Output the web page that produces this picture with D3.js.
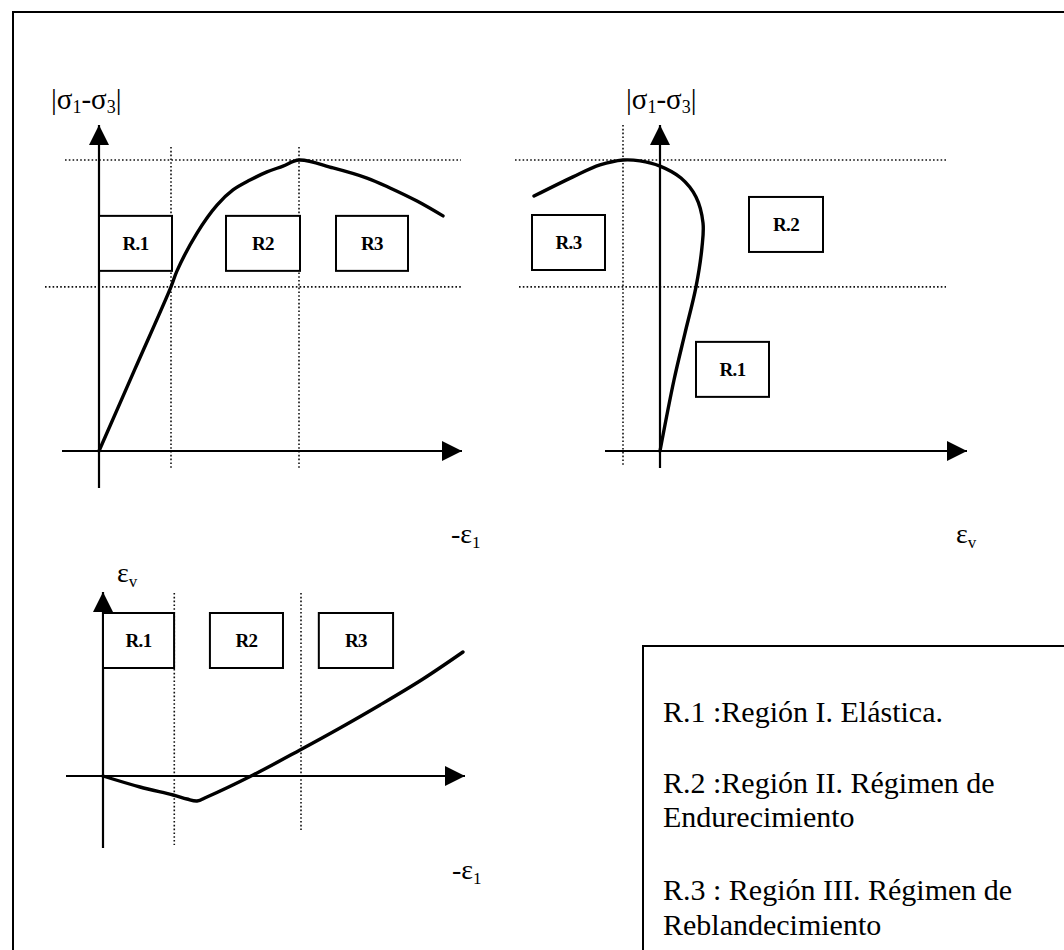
<!DOCTYPE html>
<html>
<head>
<meta charset="utf-8">
<script src="https://cdn.jsdelivr.net/npm/d3@7"></script>
<style>
  html, body { margin: 0; padding: 0; background: #fff; }
  svg { display: block; }
  text { font-family: "Liberation Serif", "Times New Roman", serif; fill: #000; }
</style>
</head>
<body>
<script>
// Deviatoric stress vs. axial strain (-ε1): elastic rise, hardening to peak, softening
const curveStressAxial = [
  [0, 0], [1.8, 28.2], [3.6, 56.4], [3.9, 61.9], [4.9, 74.9], [5.9, 84.5],
  [6.7, 89.7], [7.55, 93.1], [8.4, 95.9], [9.2, 97.9], [10, 100],
  [11.7, 97.3], [13.4, 93.8], [14.55, 90.4], [15.9, 85.9], [17.2, 80.8]
];
// Deviatoric stress vs. volumetric strain εv (ordered along the loading path)
const curveStressVolumetric = [
  [0, 0], [0.7, 24.4], [1.25, 40.5], [1.8, 56.4], [2.1, 70.1], [2.15, 78.4],
  [1.8, 87.3], [1.05, 93.8], [0, 97.9], [-1.0, 99.7], [-1.85, 100],
  [-3.0, 98.3], [-4.35, 94.2], [-6.3, 87.6]
];
// Volumetric strain εv vs. axial strain (-ε1): compaction then dilatancy
const curveVolumetricAxial = [
  [0, 0], [1.87, -1.1], [3.54, -1.9], [4.24, -2.3], [4.75, -2.5], [5.25, -2.1],
  [7.58, 0.1], [9.95, 2.6], [11.97, 4.8], [13.99, 7.1], [16.16, 9.7], [18.18, 12.4]
];

// Region limits
const axialLimits = [3.6, 10];       // -ε1 at end of elastic range and at peak
const stressLevels = [56.4, 100];    // yield and peak stress
const volumetricPeak = [-1.85];      // εv at peak stress

// Region tag labels
const tagsA = ["R.1", "R2", "R3"];
const tagsB = ["R.3", "R.2", "R.1"];
const tagsC = ["R.1", "R2", "R3"];

// Legend lines
const legendLines = [
  ["R.1 :Región I. Elástica."],
  ["R.2 :Región II. Régimen de", "Endurecimiento"],
  ["R.3 : Región III. Régimen de", "Reblandecimiento"]
];

const W = 1064, H = 950;
const svg = d3.select("body").append("svg").attr("width", W).attr("height", H);

// Arrowhead marker
const defs = svg.append("defs");
defs.append("marker")
  .attr("id", "arrow")
  .attr("viewBox", "0 0 20 20")
  .attr("refX", 20).attr("refY", 10)
  .attr("markerWidth", 20).attr("markerHeight", 20)
  .attr("markerUnits", "userSpaceOnUse")
  .attr("orient", "auto")
  .append("path").attr("d", "M0,0 L20,10 L0,20 Z").attr("fill", "#000");

// Outer frame
svg.append("rect").attr("x", 13).attr("y", 12).attr("width", 1080).attr("height", 960)
  .attr("fill", "none").attr("stroke", "#000").attr("stroke-width", 2);

// Panel layouts (pixel frames)
const panels = {
  A: { x: d3.scaleLinear().domain([0, 10]).range([99, 299]),
       y: d3.scaleLinear().domain([0, 100]).range([451, 160]),
       xAxis: [62, 462], yAxis: [488, 125] },
  B: { x: d3.scaleLinear().domain([0, 10]).range([660, 860]),
       y: d3.scaleLinear().domain([0, 100]).range([451, 160]),
       xAxis: [605, 967], yAxis: [468, 125] },
  C: { x: d3.scaleLinear().domain([0, 10]).range([103, 301]),
       y: d3.scaleLinear().domain([0, 10]).range([776, 676]),
       xAxis: [66, 465], yAxis: [848, 592] }
};

const dotted = { stroke: "#111", "stroke-width": 1.6, "stroke-dasharray": "1.6,2.2" };
function applyAttrs(sel, attrs) { for (const k in attrs) sel.attr(k, attrs[k]); return sel; }

function axes(g, p) {
  const ox = p.x(0), oy = p.y(0);
  g.append("line").attr("x1", p.xAxis[0]).attr("x2", p.xAxis[1]).attr("y1", oy).attr("y2", oy)
    .attr("stroke", "#000").attr("stroke-width", 2.2).attr("marker-end", "url(#arrow)");
  g.append("line").attr("x1", ox).attr("x2", ox).attr("y1", p.yAxis[0]).attr("y2", p.yAxis[1])
    .attr("stroke", "#000").attr("stroke-width", 2.2).attr("marker-end", "url(#arrow)");
}

function vGuide(g, p, xv, y0, y1) {
  applyAttrs(g.append("line").attr("x1", p.x(xv)).attr("x2", p.x(xv)).attr("y1", y0).attr("y2", y1), dotted);
}
function hGuide(g, p, yv, x0, x1) {
  applyAttrs(g.append("line").attr("x1", x0).attr("x2", x1).attr("y1", p.y(yv)).attr("y2", p.y(yv)), dotted);
}

function curve(g, p, data) {
  const line = d3.line().x(d => p.x(d[0])).y(d => p.y(d[1])).curve(d3.curveCatmullRom.alpha(0.5));
  g.append("path").attr("d", line(data)).attr("fill", "none")
    .attr("stroke", "#000").attr("stroke-width", 3.4).attr("stroke-linejoin", "round").attr("stroke-linecap", "round");
}

function tag(g, p, label, box) {
  const x0 = p.x(box[0]), x1 = p.x(box[1]), y0 = p.y(box[3]), y1 = p.y(box[2]);
  g.append("rect").attr("x", x0).attr("y", y0).attr("width", x1 - x0).attr("height", y1 - y0)
    .attr("fill", "#fff").attr("stroke", "#000").attr("stroke-width", 2);
  g.append("text").attr("x", (x0 + x1) / 2).attr("y", (y0 + y1) / 2 + 6.5)
    .attr("text-anchor", "middle").attr("font-weight", "bold").attr("font-size", 19)
    .attr("letter-spacing", -0.6).text(label);
}

function stressLabel(g, x, y) {
  const t = g.append("text").attr("x", x).attr("y", y).attr("font-size", 29);
  t.append("tspan").text("|σ");
  t.append("tspan").attr("font-size", 18).attr("dy", 4).text("1");
  t.append("tspan").attr("dy", -4).text("-σ");
  t.append("tspan").attr("font-size", 18).attr("dy", 4).text("3");
  t.append("tspan").attr("dy", -4).text("|");
}
function epsLabel(g, x, y, prefix, sub) {
  const t = g.append("text").attr("x", x).attr("y", y).attr("font-size", 28);
  t.append("tspan").text(prefix + "ε");
  t.append("tspan").attr("font-size", 17).attr("dy", 5).text(sub);
}

// ---- Panel A: |σ1-σ3| vs -ε1 ----
{
  const p = panels.A, g = svg.append("g");
  vGuide(g, p, axialLimits[0], 147, 468);
  vGuide(g, p, axialLimits[1], 147, 468);
  hGuide(g, p, stressLevels[1], 65, 461);
  hGuide(g, p, stressLevels[0], 45, 461);
  axes(g, p);
  const boxes = [[0, 3.65, 61.9, 80.8], [6.35, 10.05, 61.9, 80.8], [11.85, 15.45, 61.9, 80.8]];
  tagsA.forEach((t, i) => tag(g, p, t, boxes[i]));
  curve(g, p, curveStressAxial);
  stressLabel(g, 51, 109);
  epsLabel(g, 451, 543, "-", "1");
}

// ---- Panel B: |σ1-σ3| vs εv ----
{
  const p = panels.B, g = svg.append("g");
  vGuide(g, p, volumetricPeak[0], 125, 467);
  hGuide(g, p, stressLevels[1], 515, 946);
  hGuide(g, p, stressLevels[0], 519, 946);
  axes(g, p);
  const boxes = [[-6.4, -2.75, 62.2, 81.1], [4.45, 8.15, 68.4, 87.3], [1.8, 5.45, 18.6, 37.5]];
  tagsB.forEach((t, i) => tag(g, p, t, boxes[i]));
  curve(g, p, curveStressVolumetric);
  stressLabel(g, 626, 109);
  epsLabel(g, 956, 543, "", "v");
}

// ---- Panel C: εv vs -ε1 ----
{
  const p = panels.C, g = svg.append("g");
  vGuide(g, p, axialLimits[0], 593, 845);
  vGuide(g, p, axialLimits[1], 593, 830);
  axes(g, p);
  const boxes = [[0, 3.59, 10.8, 16.3], [5.4, 9.09, 10.8, 16.3], [10.9, 14.65, 10.8, 16.3]];
  tagsC.forEach((t, i) => tag(g, p, t, boxes[i]));
  curve(g, p, curveVolumetricAxial);
  epsLabel(g, 117, 582, "", "v");
  epsLabel(g, 452, 879, "-", "1");
}

// ---- Legend ----
{
  const g = svg.append("g");
  g.append("rect").attr("x", 643).attr("y", 646).attr("width", 500).attr("height", 400)
    .attr("fill", "#fff").attr("stroke", "#000").attr("stroke-width", 2);
  const baselines = [[722], [793, 827], [900, 935]];
  legendLines.forEach((lines, i) => {
    lines.forEach((s, j) => {
      g.append("text").attr("x", 663).attr("y", baselines[i][j]).attr("font-size", 30).text(s);
    });
  });
}
</script>
</body>
</html>
